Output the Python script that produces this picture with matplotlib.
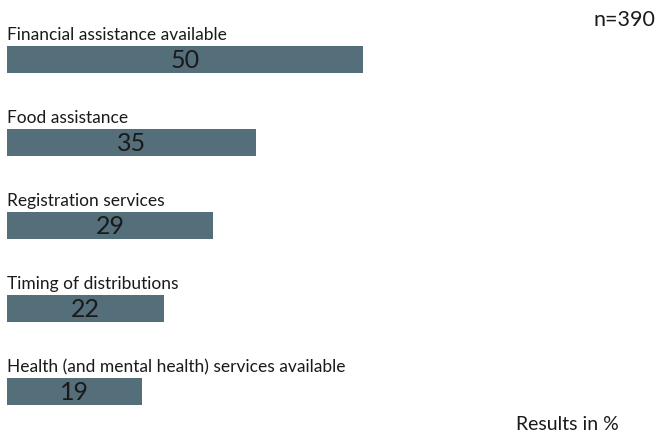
import matplotlib
matplotlib.use("Agg")
import matplotlib.pyplot as plt

categories = [
    "Financial assistance available",
    "Food assistance",
    "Registration services",
    "Timing of distributions",
    "Health (and mental health) services available",
]
values = [50, 35, 29, 22, 19]

bar_color = "#546E7A"
plt.rcParams["font.family"] = ["Lato", "DejaVu Sans"]

fig = plt.figure(figsize=(6.69, 4.33), dpi=100)
ax = fig.add_axes([0, 0, 1, 1])

pos = list(range(len(categories)))
ax.barh(pos, values, height=0.33, color=bar_color, left=0)

for i, (cat, val) in enumerate(zip(categories, values)):
    ax.text(0, i - 0.23, cat, ha="left", va="baseline", fontsize=12.5, color="#1a1a1a")
    ax.text(val / 2, i + 0.01, str(val), ha="center", va="center", fontsize=18, color="#1a1a1a")

ax.set_xlim(-0.983, 92.98)
ax.set_ylim(4.5, -0.717)
ax.axis("off")

fig.text(655 / 669, 1 - 20 / 433, "n=390", ha="right", va="center", fontsize=15.5, color="#1a1a1a")
fig.text(619 / 669, 1 - 424 / 433, "Results in %", ha="right", va="center", fontsize=14, color="#1a1a1a")

fig.savefig("out.png", dpi=100)
